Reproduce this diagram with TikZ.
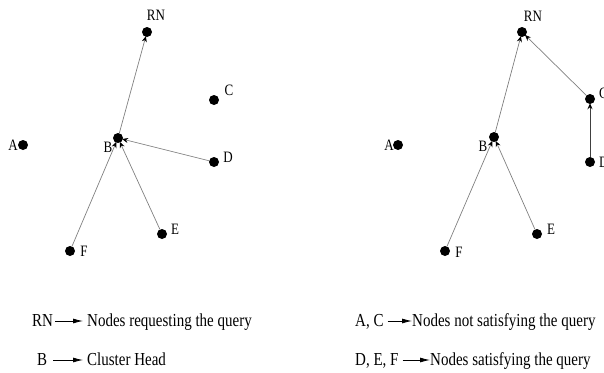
\documentclass[tikz,border=0pt]{standalone}
\usepackage{fontspec}
\setmainfont{Liberation Serif}
\usetikzlibrary{arrows.meta}
\newcommand{\stretchtxt}[1]{\scalebox{1}[1.22]{#1}}
\tikzset{
  dot/.style={circle,fill=black,minimum size=10pt,inner sep=0pt},
  lbl/.style={font=\fontsize{13}{15}\selectfont,inner sep=0pt},
  link/.style={draw=black!50,line width=0.7pt,-{Stealth[length=6pt,width=5pt,black]},shorten >=-1pt},
  legtxt/.style={font=\fontsize{15}{18}\selectfont,inner sep=0pt,anchor=base west},
  legarrow/.style={draw=black,line width=0.8pt,-{Latex[length=10pt,width=5pt]}}
}
\begin{document}
\begin{tikzpicture}[x=1pt,y=-1pt]
\useasboundingbox (0,0) rectangle (604,372);
% ---------- left panel ----------
\node[dot] (lRN) at (147,32) {};
\node[dot] (lC) at (214,100) {};
\node[dot] (lA) at (23,145) {};
\node[dot] (lB) at (118,138) {};
\node[dot] (lD) at (214,162) {};
\node[dot] (lE) at (162,234) {};
\node[dot] (lF) at (70,251) {};
\node[lbl] (lRNt) at (156,15.5) {\stretchtxt{RN}};
\node[lbl] (lCt) at (229,90) {\stretchtxt{C}};
\node[lbl] (lAt) at (13,145) {\stretchtxt{A}};
\node[lbl] (lBt) at (108,147) {\stretchtxt{B}};
\node[lbl] (lDt) at (228,157) {\stretchtxt{D}};
\node[lbl] (lEt) at (175,229) {\stretchtxt{E}};
\node[lbl] (lFt) at (84,251) {\stretchtxt{F}};
\draw[link] (lB) -- (lRN);
\draw[link] (lD) -- (lB);
\draw[link] (lE) -- (lB);
\draw[link] (lF) -- (lB);
% ---------- right panel ----------
\node[dot] (rRN) at (522,32) {};
\node[dot] (rC) at (590,99) {};
\node[dot] (rA) at (398,145) {};
\node[dot] (rB) at (494,137) {};
\node[dot] (rD) at (590,162) {};
\node[dot] (rE) at (537,234) {};
\node[dot] (rF) at (445,251) {};
\node[lbl] (rRNt) at (533,16) {\stretchtxt{RN}};
\node[lbl,anchor=west] (rCt) at (599,93) {\stretchtxt{C}};
\node[lbl] (rAt) at (389,145) {\stretchtxt{A}};
\node[lbl] (rBt) at (483,146) {\stretchtxt{B}};
\node[lbl,anchor=west] (rDt) at (599,162) {\stretchtxt{D}};
\node[lbl] (rEt) at (551,229) {\stretchtxt{E}};
\node[lbl] (rFt) at (459,252) {\stretchtxt{F}};
\draw[link] (rB) -- (rRN);
\draw[link] (rC) -- (rRN);
\draw[link,draw=black!75,line width=1pt] (rD) -- (rC);
\draw[link] (rE) -- (rB);
\draw[link] (rF) -- (rB);
% ---------- legend ----------
\node[legtxt] (k1) at (32,326) {\stretchtxt{RN}};
\node[legtxt] (v1) at (87,326) {\stretchtxt{Nodes requesting the query}};
\node[legtxt] (k2) at (37,365) {\stretchtxt{B}};
\node[legtxt] (v2) at (87,365) {\stretchtxt{Cluster Head}};
\node[legtxt] (k3) at (355,326) {\stretchtxt{A, C}};
\node[legtxt] (v3) at (412,326) {\stretchtxt{Nodes not satisfying the query}};
\node[legtxt] (k4) at (355,365) {\stretchtxt{D, E, F}};
\node[legtxt] (v4) at (430,365) {\stretchtxt{Nodes satisfying the query}};
\draw[legarrow] ([xshift=2pt,yshift=5pt]k1.base east) -- ([xshift=-4pt,yshift=5pt]v1.base west);
\draw[legarrow] ([xshift=6pt,yshift=5pt]k2.base east) -- ([xshift=-4pt,yshift=5pt]v2.base west);
\draw[legarrow] ([xshift=4pt,yshift=5pt]k3.base east) -- ([xshift=0pt,yshift=5pt]v3.base west);
\draw[legarrow] ([xshift=4pt,yshift=5pt]k4.base east) -- ([xshift=0pt,yshift=5pt]v4.base west);
\end{tikzpicture}
\end{document}
